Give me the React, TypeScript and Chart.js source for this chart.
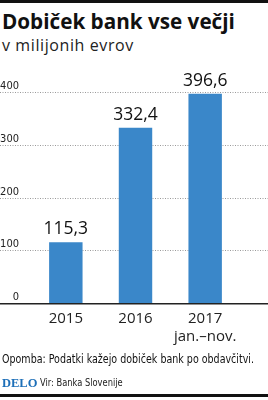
import React, { useEffect, useRef } from "react";
import { Chart, registerables } from "chart.js";

Chart.register(...registerables);

const title = "Dobiček bank vse večji";
const subtitle = "v milijonih evrov";
const categories: string[][] = [["2015"], ["2016"], ["2017", "jan.–nov."]];
const values = [115.3, 332.4, 396.6];
const valueLabels = ["115,3", "332,4", "396,6"];
const yTicks = [0, 100, 200, 300, 400];
const note = "Opomba: Podatki kažejo dobiček bank po obdavčitvi.";
const brand = "DELO";
const source = "Vir: Banka Slovenije";

const BAR = "#3a87c9";
const NARROW = "'Liberation Sans Narrow', 'DejaVu Sans Condensed', sans-serif";
const SANS = "'Open Sans', 'Noto Sans', sans-serif";

const overlayPlugin = {
  id: "overlay",
  beforeDatasetsDraw(chart: any) {
    const { ctx, width } = chart;
    const y = chart.scales.y;
    ctx.save();
    ctx.strokeStyle = "#9a9a9a";
    ctx.lineWidth = 1;
    ctx.setLineDash([1, 1.5]);
    yTicks.forEach((t) => {
      if (t === 0) return;
      const py = Math.round(y.getPixelForValue(t)) + 0.5;
      ctx.beginPath();
      ctx.moveTo(0, py);
      ctx.lineTo(width, py);
      ctx.stroke();
    });
    ctx.setLineDash([]);
    ctx.fillStyle = "#222";
    ctx.font = `11px ${NARROW}`;
    ctx.textAlign = "right";
    ctx.textBaseline = "alphabetic";
    yTicks.forEach((t) => {
      const py = y.getPixelForValue(t);
      ctx.fillText(String(t), 19, py - 3);
    });
    ctx.restore();
  },
  afterDatasetsDraw(chart: any) {
    const { ctx, width } = chart;
    const y = chart.scales.y;
    const x = chart.scales.x;
    ctx.save();
    const by = y.getPixelForValue(0);
    ctx.strokeStyle = "#222";
    ctx.lineWidth = 1.5;
    ctx.beginPath();
    ctx.moveTo(0, by + 0.75);
    ctx.lineTo(width, by + 0.75);
    ctx.stroke();
    ctx.fillStyle = "#111";
    ctx.textAlign = "center";
    ctx.textBaseline = "alphabetic";
    ctx.font = `17.5px ${SANS}`;
    const meta = chart.getDatasetMeta(0);
    meta.data.forEach((bar: any, i: number) => {
      ctx.fillText(valueLabels[i], bar.x, bar.y - 8);
    });
    ctx.font = `15px ${SANS}`;
    ctx.fillStyle = "#222";
    categories.forEach((lines, i) => {
      const px = x.getPixelForValue(i);
      lines.forEach((ln, j) => {
        ctx.fillText(ln, px, by + 20 + j * 17.5);
      });
    });
    ctx.restore();
  },
};

export default function App() {
  const ref = useRef<HTMLCanvasElement>(null);
  useEffect(() => {
    document.body.style.margin = "0";
    const chart = new Chart(ref.current!, {
      type: "bar",
      data: {
        labels: categories.map((c) => c.join(" ")),
        datasets: [
          {
            data: values,
            backgroundColor: BAR,
            barPercentage: 0.48,
            categoryPercentage: 1,
          },
        ],
      },
      options: {
        animation: false,
        responsive: false,
        maintainAspectRatio: false,
        layout: { padding: { left: 31, right: 28, top: 92, bottom: 97 } },
        plugins: { legend: { display: false }, tooltip: { enabled: false } },
        scales: {
          x: { display: false },
          y: { display: false, min: 0, max: 400, ticks: { stepSize: 100 } },
        },
      },
      plugins: [overlayPlugin],
    });
    return () => chart.destroy();
  }, []);

  return (
    <div style={{ position: "relative", width: 268, height: 400, background: "#fff", overflow: "hidden" }}>
      <div style={{ position: "absolute", left: 0, top: 0, width: 268, height: 3, background: "#111" }} />
      <div
        style={{
          position: "absolute", left: 2, top: 7, fontFamily: SANS, fontWeight: 700,
          fontSize: 20.7, lineHeight: "28px", color: "#111", whiteSpace: "nowrap",
        }}
      >
        {title}
      </div>
      <div
        style={{
          position: "absolute", left: 2, top: 35, fontFamily: SANS, fontWeight: 400,
          fontSize: 16, letterSpacing: 0.6, lineHeight: "20px", color: "#222", whiteSpace: "nowrap",
        }}
      >
        {subtitle}
      </div>
      <canvas ref={ref} width={268} height={400} style={{ position: "absolute", left: 0, top: 0, width: 268, height: 400 }} />
      <div
        style={{
          position: "absolute", left: 2, top: 351, fontFamily: NARROW, fontSize: 11.5,
          lineHeight: "16px", color: "#111", whiteSpace: "nowrap",
          transform: "scaleX(0.92)", transformOrigin: "0 0",
        }}
      >
        {note}
      </div>
      <div style={{ position: "absolute", left: 2, top: 374, whiteSpace: "nowrap", lineHeight: "16px" }}>
        <span style={{ fontFamily: "'Liberation Serif', serif", fontWeight: 700, fontSize: 12.5, color: "#1d6fb8" }}>{brand}</span>
      </div>
      <div
        style={{
          position: "absolute", left: 40, top: 374, whiteSpace: "nowrap", lineHeight: "16px",
          fontFamily: NARROW, fontSize: 10.5, color: "#222", transform: "scaleX(0.88)", transformOrigin: "0 0",
        }}
      >
        {source}
      </div>
      <div style={{ position: "absolute", left: 0, top: 394, width: 268, height: 3, background: "#111" }} />
    </div>
  );
}
